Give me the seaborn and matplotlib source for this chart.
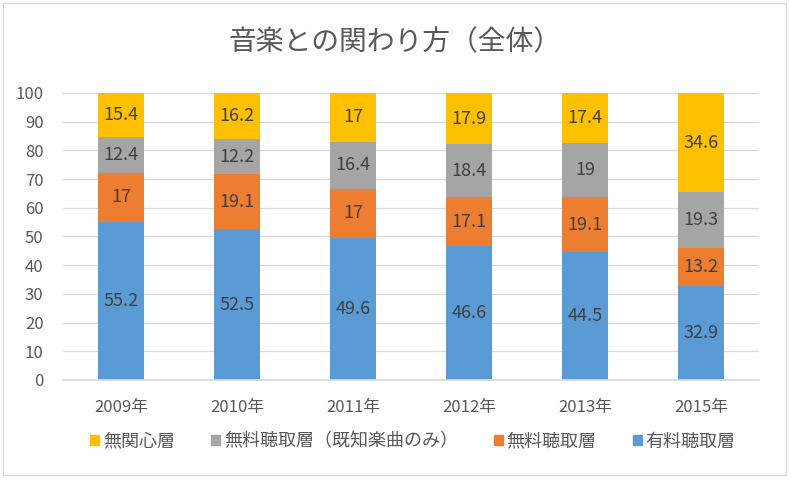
import numpy as np
import pandas as pd
import seaborn as sns
import matplotlib.pyplot as plt
from matplotlib.patches import Rectangle, Patch

# data (percent)
years = ['2009年', '2010年', '2011年', '2012年', '2013年', '2015年']
paid = [55.2, 52.5, 49.6, 46.6, 44.5, 32.9]          # 有料聴取層
free = [17, 19.1, 17, 17.1, 19.1, 13.2]              # 無料聴取層
free_known = [12.4, 12.2, 16.4, 18.4, 19, 19.3]      # 無料聴取層（既知楽曲のみ）
indifferent = [15.4, 16.2, 17, 17.9, 17.4, 34.6]     # 無関心層

series_names = ['有料聴取層', '無料聴取層', '無料聴取層（既知楽曲のみ）', '無関心層']
series_vals = [paid, free, free_known, indifferent]
colors = ['#5B9BD5', '#ED7D31', '#A5A5A5', '#FFC000']

sns.set_theme(style='white')
plt.rcParams['font.family'] = ['Noto Sans CJK JP', 'DejaVu Sans']

fig = plt.figure(figsize=(7.91, 4.96), dpi=100)
fig.patches.append(Rectangle((0.004, 0.042), 0.99, 0.952, transform=fig.transFigure,
                             fill=False, edgecolor='#D9D9D9', linewidth=1.0))
ax = fig.add_axes([0.0797, 0.234, 0.88, 0.5786])

# cumulative stacks, drawn from the top down so each layer covers the one above
df = pd.DataFrame({'year': years})
cum = np.zeros(len(years))
tops = []
for name, vals in zip(series_names, series_vals):
    cum = cum + np.array(vals)
    tops.append(cum.copy())

for i in range(len(series_names) - 1, -1, -1):
    df['top'] = tops[i]
    sns.barplot(data=df, x='year', y='top', color=colors[i], saturation=1,
                width=0.4, linewidth=0, ax=ax, zorder=2)

# value labels
for i, vals in enumerate(series_vals):
    for j, v in enumerate(vals):
        mid = tops[i][j] - v / 2
        ax.text(j, mid, f'{v:g}', ha='center', va='center', fontsize=13, color='#404040', zorder=3)

ax.set_ylim(0, 100)
ax.set_yticks(range(0, 101, 10))
ax.set_xlim(-0.5, len(years) - 0.5)
ax.grid(axis='y', color='#D9D9D9', linewidth=0.9, zorder=0)
ax.set_axisbelow(True)
for s in ['left', 'right', 'top']:
    ax.spines[s].set_visible(False)
ax.spines['bottom'].set_color('#D9D9D9')
ax.set_xlabel('')
ax.set_ylabel('')
ax.tick_params(axis='both', length=0, labelsize=12, colors='#595959')
ax.tick_params(axis='x', pad=14)
ax.tick_params(axis='y', pad=14)

fig.text(0.5, 0.915, '音楽との関わり方（全体）', ha='center', va='center', fontsize=20, color='#595959')

handles = [Patch(color=colors[i]) for i in [3, 2, 1, 0]]
labels = [series_names[i] for i in [3, 2, 1, 0]]
leg = fig.legend(handles, labels, loc='center', bbox_to_anchor=(0.522, 0.11), ncol=4,
                 frameon=False, fontsize=13, handlelength=0.5, handleheight=0.5,
                 handletextpad=0.2, columnspacing=2.0)
for t in leg.get_texts():
    t.set_color('#595959')

fig.savefig('out.png', dpi=100)
